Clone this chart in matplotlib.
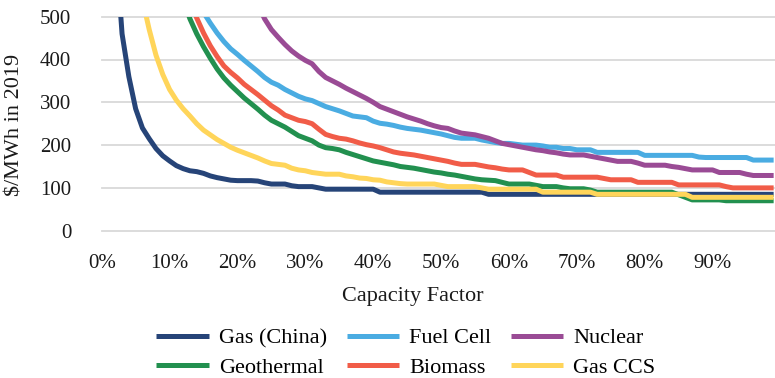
"""
Cost of firm power vs capacity factor
=====================================

Levelised cost curves ($/MWh, 2019) for six dispatchable technologies,
plotted against capacity factor. Values read off the source chart at 1%
steps; points above 500 $/MWh fall outside the view and are clipped.
"""

import numpy as np
import matplotlib
matplotlib.use("Agg")
import matplotlib.pyplot as plt


# =============================================================================
# Data
# =============================================================================

NAN = np.nan

# Capacity factor, percent
capacity_factor = list(range(1, 100))

gas_china = (
    [NAN, 680, 460, 360, 285, 240, 215, 192, 175, 163,
     152, 145, 140, 138, 134, 128, 124, 121, 118, 117,
     117, 117, 116, 112, 109, 109, 109, 105, 103, 103,
     103, 100]
    + [97] * 8
    + [90] * 16
    + [85] * 43
)

gas_ccs = (
    [NAN] * 5
    + [540, 470, 410, 365, 330, 305, 285, 268, 250, 235,
       224, 213, 204, 195, 188, 182, 176, 170, 163, 157,
       155, 153, 146, 142, 140, 136, 134, 132, 132, 132,
       128, 126, 123, 122, 119, 118, 114, 112, 110]
    + [109] * 5 + [106] + [103] * 5 + [100]
    + [97] * 8 + [90] * 8 + [85] * 14 + [78] * 13
)

geothermal = (
    [NAN] * 11
    + [540, 495, 460, 430, 403, 378, 357, 340, 325, 310,
       297, 284, 270, 258, 250, 242, 232, 222, 216, 210,
       200, 194, 192, 189, 183, 178, 173, 168, 163, 160,
       157, 154, 150, 148, 146, 143, 140, 137, 135, 132,
       130, 127, 124, 121, 119, 118, 117, 113]
    + [109] * 4 + [106] + [103] * 3 + [100] + [98] * 3 + [95]
    + [90] * 12 + [84, 78] + [72] * 5 + [70] * 8
)

biomass = (
    [NAN] * 12
    + [540, 497, 462, 432, 407, 385, 370, 357, 342, 330,
       318, 305, 292, 282, 270, 264, 258, 255, 250, 237,
       225, 220, 216, 214, 210, 205, 201, 198, 194, 189,
       184, 181, 179, 177, 174, 171, 168, 165, 162, 158]
    + [155] * 3 + [152, 149, 147, 144] + [142] * 3 + [136]
    + [130] * 4 + [125] * 6 + [122] + [119] * 4 + [113] * 6
    + [107] * 7 + [103] + [100] * 7
)

fuel_cell = (
    [NAN] * 14
    + [510, 485, 462, 442, 425, 412, 398, 385, 372, 358,
       347, 340, 330, 322, 314, 308, 304, 297, 290, 285,
       280, 274, 268, 266, 264, 256, 251, 249, 246, 242,
       239, 237, 235, 232, 229, 226, 222, 218]
    + [216] * 3 + [212, 209, 206, 204, 204, 202] + [200] * 3 + [198]
    + [195] * 2 + [192] * 2 + [189] * 3 + [183] * 7 + [176] * 8
    + [172] + [171] * 7 + [165] * 4
)

nuclear = (
    [NAN] * 22
    + [530, 495, 470, 452, 435, 420, 408, 398, 390, 372,
       358, 350, 342, 333, 325, 317, 309, 300, 290, 284,
       278, 272, 266, 261, 256, 250, 245, 241, 239, 233,
       228, 226, 224, 220, 216, 210, 204, 201, 198, 195,
       192, 189, 187, 184, 182, 179]
    + [177] * 3 + [174, 171, 168, 165] + [162] * 3 + [158]
    + [153] * 4 + [150, 148, 145] + [142] * 4 + [136] * 4
    + [132] + [129] * 4
)

# Drawn in this order (later series sit on top)
series_names = ["Gas (China)", "Fuel Cell", "Nuclear",
                "Geothermal", "Biomass", "Gas CCS"]
series_values = [gas_china, fuel_cell, nuclear,
                 geothermal, biomass, gas_ccs]
series_colors = ["#264478", "#4AACE2", "#9A4B95",
                 "#22904F", "#F15C48", "#FFD55A"]

x_ticks = list(range(0, 100, 10))
x_tick_labels = [f"{t}%" for t in x_ticks]
y_ticks = [0, 100, 200, 300, 400, 500]


# =============================================================================
# Plot
# =============================================================================

plt.rcParams["font.family"] = ["Liberation Serif", "DejaVu Serif"]

W, H = 775, 378


def main():
    fig = plt.figure(figsize=(W / 100, H / 100), dpi=100)
    # plot area in pixels: x 101.7..775, y 16.7..230.7 (from top)
    ax = fig.add_axes([101.7 / W, 1 - 230.7 / H, (W - 101.7) / W, 214.0 / H])

    handles = {}
    for name, vals, col in zip(series_names, series_values, series_colors):
        assert len(vals) == len(capacity_factor), name
        (ln,) = ax.plot(capacity_factor, vals, color=col, lw=3.6,
                        solid_joinstyle="round", solid_capstyle="butt",
                        zorder=3)
        handles[name] = ln

    ax.set_xlim(0, 99.2)
    ax.set_ylim(0, 500)
    ax.set_xticks(x_ticks)
    ax.set_xticklabels(x_tick_labels)
    ax.set_yticks(y_ticks)

    ax.grid(axis="y", color="#D9D9D9", lw=1.3, zorder=0)
    for gl in ax.get_ygridlines():
        gl.set_clip_on(False)
    ax.set_axisbelow(True)
    for sp in ax.spines.values():
        sp.set_visible(False)

    ax.tick_params(axis="both", length=0, labelsize=15, labelcolor="#1a1a1a")
    ax.tick_params(axis="y", pad=22)
    ax.tick_params(axis="x", pad=17)

    fig.text(15 / W, 1 - 125 / H, "$/MWh in 2019", rotation=90,
             ha="center", va="center", fontsize=16, color="#1a1a1a")
    fig.text(413 / W, 1 - 297 / H, "Capacity Factor",
             ha="center", va="center", fontsize=16, color="#1a1a1a")

    # column-major fill -> rows read Gas (China), Fuel Cell, Nuclear / ...
    order = ["Gas (China)", "Geothermal", "Fuel Cell",
             "Biomass", "Nuclear", "Gas CCS"]
    fig.legend([handles[n] for n in order], order,
               loc="center", bbox_to_anchor=(406 / W, 1 - 353 / H),
               ncol=3, frameon=False, fontsize=16,
               handlelength=2.35, handletextpad=0.45,
               columnspacing=0.9, labelspacing=0.42,
               borderpad=0, borderaxespad=0)

    fig.savefig("out.png", dpi=100)


if __name__ == "__main__":
    main()
